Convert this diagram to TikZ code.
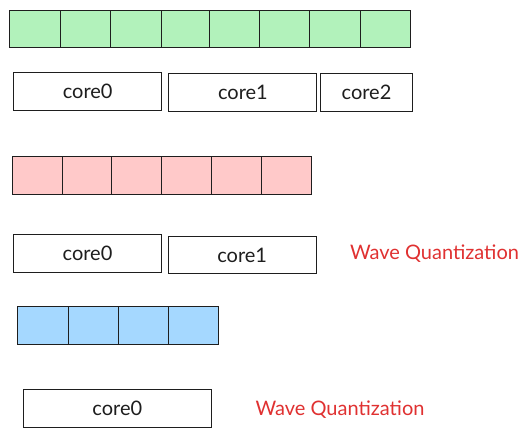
\documentclass[tikz,border=0pt]{standalone}
\usepackage{fontspec}
\setmainfont{Lato}
\definecolor{strk}{HTML}{1E1E1E}
\definecolor{gfill}{HTML}{B2F2BB}
\definecolor{pfill}{HTML}{FFC9C9}
\definecolor{bfill}{HTML}{A5D8FF}
\definecolor{wq}{HTML}{E03131}
\begin{document}
\begin{tikzpicture}[x=1pt,y=-1pt,
  cell/.style={draw=strk,line width=1pt,inner sep=0pt,outer sep=0pt},
  corebox/.style={draw=strk,line width=1pt,fill=white,inner sep=0pt,outer sep=0pt,text=strk,font=\fontsize{20}{24}\selectfont},
  wqlabel/.style={text=wq,inner sep=0pt,font=\fontsize{20}{24}\selectfont}]
\useasboundingbox[fill=white] (0,0) rectangle (531,437);
% green row
\foreach \a/\b [count=\i] in {9.7/60,60/110.3,110.3/161,161/209.2,209.2/259.3,259.3/309.7,309.7/360,360/410.3}
  \node[cell,fill=gfill,minimum width={\b-\a},minimum height=37.8] (g\i) at ({(\a+\b)/2},29) {};
\node[corebox,minimum width=148,minimum height=37.7] (c0a) at (87.7,91.2) {core0};
\node[corebox,minimum width=148,minimum height=38.3] (c1a) at (242.9,92.5) {core1};
\node[corebox,minimum width=91.6,minimum height=38] (c2a) at (366.5,92) {core2};
% pink row
\foreach \a/\b [count=\i] in {12.3/62.7,62.7/111,111/161,161/211.3,211.3/261.7,261.7/311.7}
  \node[cell,fill=pfill,minimum width={\b-\a},minimum height=38] (p\i) at ({(\a+\b)/2},175) {};
\node[corebox,minimum width=148.4,minimum height=38] (c0b) at (87.5,253) {core0};
\node[corebox,minimum width=147.7,minimum height=37.7] (c1b) at (242.2,254.9) {core1};
\node[wqlabel] (wq1) at (434.5,253.5) {Wave Quantization};
% blue row
\foreach \a/\b [count=\i] in {17.7/68.3,68.3/118.3,118.3/168,168/218.3}
  \node[cell,fill=bfill,minimum width={\b-\a},minimum height=38] (b\i) at ({(\a+\b)/2},325.7) {};
\node[corebox,minimum width=188,minimum height=37.7] (c0c) at (117.3,408.8) {core0};
\node[wqlabel] (wq2) at (340,410) {Wave Quantization};
\end{tikzpicture}
\end{document}
